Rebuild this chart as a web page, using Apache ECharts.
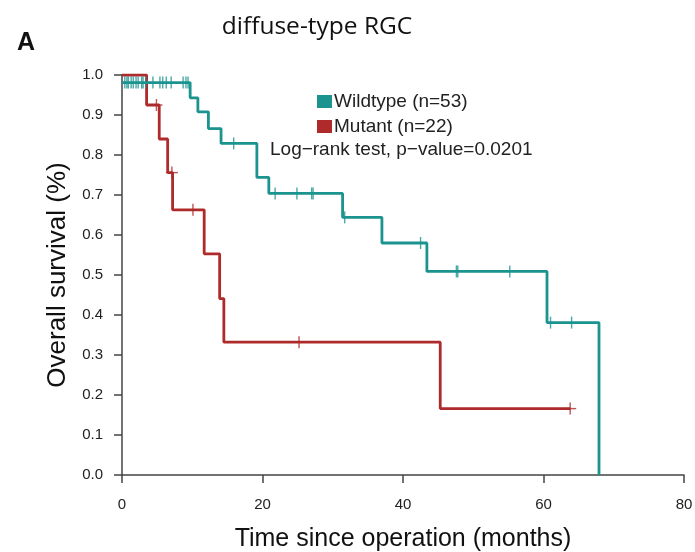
<!DOCTYPE html>
<html><head><meta charset="utf-8">
<script src="https://cdn.jsdelivr.net/npm/echarts@6/dist/echarts.min.js"></script>
<style>html,body{margin:0;padding:0;background:#fff}#c{width:695px;height:552px}</style>
</head><body><div id="c"></div>
<script>
// Wildtype KM steps
const wtTimes = [0, 9.7, 10.8, 12.3, 14.1, 19.2, 20.9, 31.4, 37.0, 43.4, 60.5, 67.9];
const wtSurv  = [0.981, 0.943, 0.908, 0.866, 0.829, 0.744, 0.704, 0.644, 0.580, 0.509, 0.381, 0.0];
const wtCensor = [0.4, 0.7, 0.9, 1.3, 1.6, 2.0, 2.3, 2.8, 3.0, 3.4, 4.4, 5.4, 5.8, 6.3, 7.0, 8.7, 9.1, 9.4,
                  15.9, 21.8, 24.9, 27.0, 27.2, 31.7, 42.5, 47.6, 47.8, 55.2, 61.0, 64.0];
// Mutant KM steps
const mtTimes = [0, 3.5, 5.3, 6.5, 7.2, 11.7, 13.9, 14.5, 45.3, 63.8];
const mtSurv  = [1.0, 0.925, 0.840, 0.756, 0.663, 0.553, 0.441, 0.332, 0.166, 0.166];
const mtCensor = [4.9, 7.1, 10.1, 25.2, 63.8];

const xTicks = [0, 20, 40, 60, 80];
const yTicks = [0, 0.1, 0.2, 0.3, 0.4, 0.5, 0.6, 0.7, 0.8, 0.9, 1.0];

const teal = '#1b9490', red = '#ae2a2b';

function survAt(times, surv, t) {
  let v = surv[0];
  for (let i = 0; i < times.length; i++) { if (times[i] <= t) v = surv[i]; }
  return v;
}
const pairs = (ts, vs) => ts.map((t, i) => [t, vs[i]]);
const cens = (cs, ts, vs) => cs.map(t => [t, survAt(ts, vs, t)]);

const chart = echarts.init(document.getElementById('c'), null, {renderer: 'canvas'});
const axisCol = '#444';
const font = "'Liberation Sans', Arial, sans-serif";
chart.setOption({
  animation: false,
  backgroundColor: '#fff',
  textStyle: {fontFamily: font},
  title: {
    text: 'diffuse-type RGC', left: 312, top: 10, textAlign: 'center',
    textStyle: {fontFamily: "'Open Sans', sans-serif", fontWeight: 'normal', fontSize: 24.5, color: '#111'}
  },
  graphic: [
    {type: 'text', left: 17, top: 31, style: {text: 'A', font: "bold 25px 'Liberation Sans Narrow', 'Liberation Sans', sans-serif", fill: '#111'}},
    {type: 'text', left: 270, top: 140, style: {text: 'Log\u2212rank test, p\u2212value=0.0201', font: "19px " + font, fill: '#222'}}
  ],
  legend: {
    data: ['Wildtype (n=53)', 'Mutant (n=22)'],
    orient: 'vertical', left: 312, top: 86, itemGap: 4,
    itemWidth: 15, itemHeight: 13, icon: 'rect',
    textStyle: {fontSize: 19, lineHeight: 21, color: '#222', fontFamily: font, padding: [0, 0, 0, -3]}
  },
  grid: {left: 122, right: 11, top: 75, bottom: 77, containLabel: false, outerBoundsMode: 'none'},
  xAxis: {
    type: 'value', min: 0, max: 80, interval: 20,
    name: 'Time since operation (months)', nameLocation: 'middle', nameGap: 52,
    nameTextStyle: {fontSize: 25, color: '#111', fontFamily: font},
    axisLine: {show: true, onZero: false, lineStyle: {color: axisCol, width: 1.5}},
    axisTick: {show: true, length: 8, lineStyle: {color: axisCol, width: 1.5}},
    axisLabel: {fontSize: 15, color: '#222', margin: 22, formatter: v => xTicks.includes(v) ? String(v) : ''},
    splitLine: {show: false}
  },
  yAxis: {
    type: 'value', min: 0, max: 1, interval: 0.1,
    name: 'Overall survival (%)', nameLocation: 'middle', nameGap: 48,
    nameTextStyle: {fontSize: 26, color: '#111', fontFamily: font},
    axisLine: {show: true, onZero: false, lineStyle: {color: axisCol, width: 1.5}},
    axisTick: {show: true, length: 8, lineStyle: {color: axisCol, width: 1.5}},
    axisLabel: {fontSize: 15, color: '#222', margin: 19, formatter: v => yTicks.some(t => Math.abs(t - v) < 1e-9) ? v.toFixed(1) : ''},
    splitLine: {show: false}
  },
  series: [
    {name: 'Wildtype (n=53)', type: 'line', step: 'end', data: pairs(wtTimes, wtSurv), showSymbol: false,
     color: teal, lineStyle: {color: teal, width: 2.8}, z: 3},
    {name: 'Mutant (n=22)', type: 'line', step: 'end', data: pairs(mtTimes, mtSurv), showSymbol: false,
     color: red, lineStyle: {color: red, width: 2.8}, z: 2},
    {name: 'wt-censor', type: 'scatter', data: cens(wtCensor, wtTimes, wtSurv), symbol: 'rect', symbolSize: [1.4, 12],
     itemStyle: {color: teal}, z: 4},
    {name: 'mt-censor', type: 'scatter', data: cens(mtCensor, mtTimes, mtSurv), symbol: 'rect', symbolSize: [1.4, 12],
     itemStyle: {color: red}, z: 4},
    {name: 'mt-censor-h', type: 'scatter', data: cens(mtCensor, mtTimes, mtSurv), symbol: 'rect', symbolSize: [12, 1.4],
     itemStyle: {color: red}, z: 4}
  ]
});
</script></body></html>
